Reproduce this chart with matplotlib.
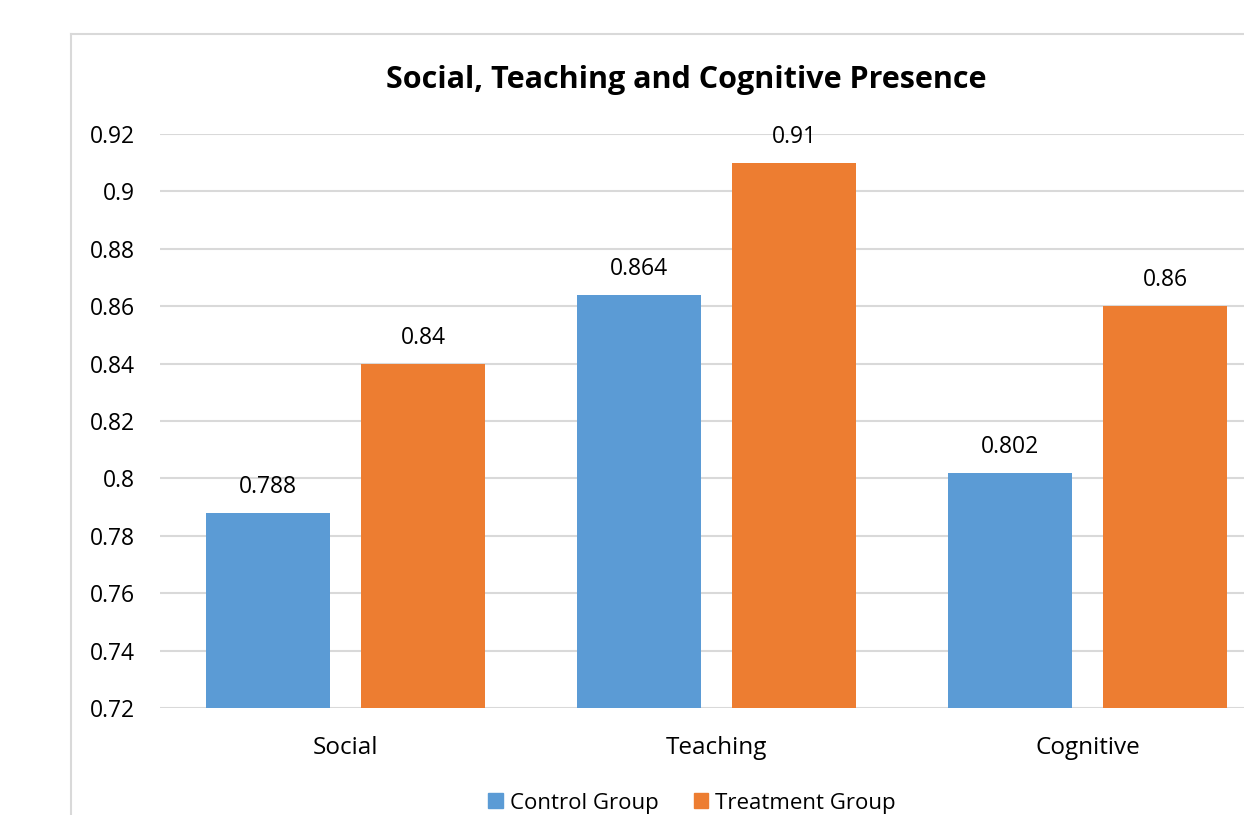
import matplotlib
matplotlib.use("Agg")
import matplotlib.pyplot as plt
from matplotlib.lines import Line2D
from matplotlib.patches import Patch
import numpy as np

# ---------------------------------------------------------------------------
# Data
# ---------------------------------------------------------------------------
categories = ["Social", "Teaching", "Cognitive"]
control = [0.788, 0.864, 0.802]
treatment = [0.84, 0.91, 0.86]
series_names = ["Control Group", "Treatment Group"]
y_ticks = [0.72, 0.74, 0.76, 0.78, 0.80, 0.82, 0.84, 0.86, 0.88, 0.90, 0.92]
y_tick_labels = ["0.72", "0.74", "0.76", "0.78", "0.8", "0.82", "0.84",
                 "0.86", "0.88", "0.9", "0.92"]

BLUE = "#5B9BD5"
ORANGE = "#ED7D31"
GRID = "#D9D9D9"

plt.rcParams["font.family"] = ["Open Sans", "DejaVu Sans"]

fig = plt.figure(figsize=(12.44, 8.15), dpi=100)
W, H = 1244, 815

# chart frame (only left and top edges visible)
fig.add_artist(Line2D([71 / W, 71 / W], [0, 1 - 34 / H], color=GRID, lw=1.5))
fig.add_artist(Line2D([71 / W, 1.0], [1 - 34 / H, 1 - 34 / H], color=GRID, lw=1.5))

# plot area runs off the right edge
ax = fig.add_axes([160 / W, 1 - 708 / H, 1113 / W, (708 - 134) / H])

x = np.arange(len(categories))
bw = 0.332
off = 0.209
b1 = ax.bar(x - off, control, bw, color=BLUE, zorder=3)
b2 = ax.bar(x + off, treatment, bw, color=ORANGE, zorder=3)

for bars, vals in ((b1, control), (b2, treatment)):
    for rect, v in zip(bars, vals):
        ax.annotate(f"{v:g}", (rect.get_x() + rect.get_width() / 2, v),
                    xytext=(0, 10), textcoords="offset points",
                    ha="center", va="bottom", fontsize=16.5, color="#000000")

ax.set_xlim(-0.5, 2.5)
ax.set_ylim(0.72, 0.92)
ax.set_yticks(y_ticks)
ax.set_yticklabels(y_tick_labels)
ax.set_xticks(x)
ax.set_xticklabels(categories)
ax.tick_params(axis="y", length=0, pad=18, labelsize=16.5)
ax.tick_params(axis="x", length=0, pad=20, labelsize=17.5)
ax.yaxis.grid(True, color=GRID, lw=1.5, zorder=0)
ax.set_axisbelow(True)
for s in ax.spines.values():
    s.set_visible(False)

fig.text(686 / W, 1 - 80 / H, "Social, Teaching and Cognitive Presence",
         ha="center", va="center", fontsize=22, fontweight="bold")

handles = [Patch(color=BLUE), Patch(color=ORANGE)]
fig.legend(handles, series_names, loc="center", bbox_to_anchor=(692 / W, 1 - 803 / H),
           ncol=2, frameon=False, fontsize=16, handlelength=0.65, handleheight=0.65,
           handletextpad=0.3, columnspacing=1.6, borderpad=0)

fig.savefig("out.png", dpi=100)
